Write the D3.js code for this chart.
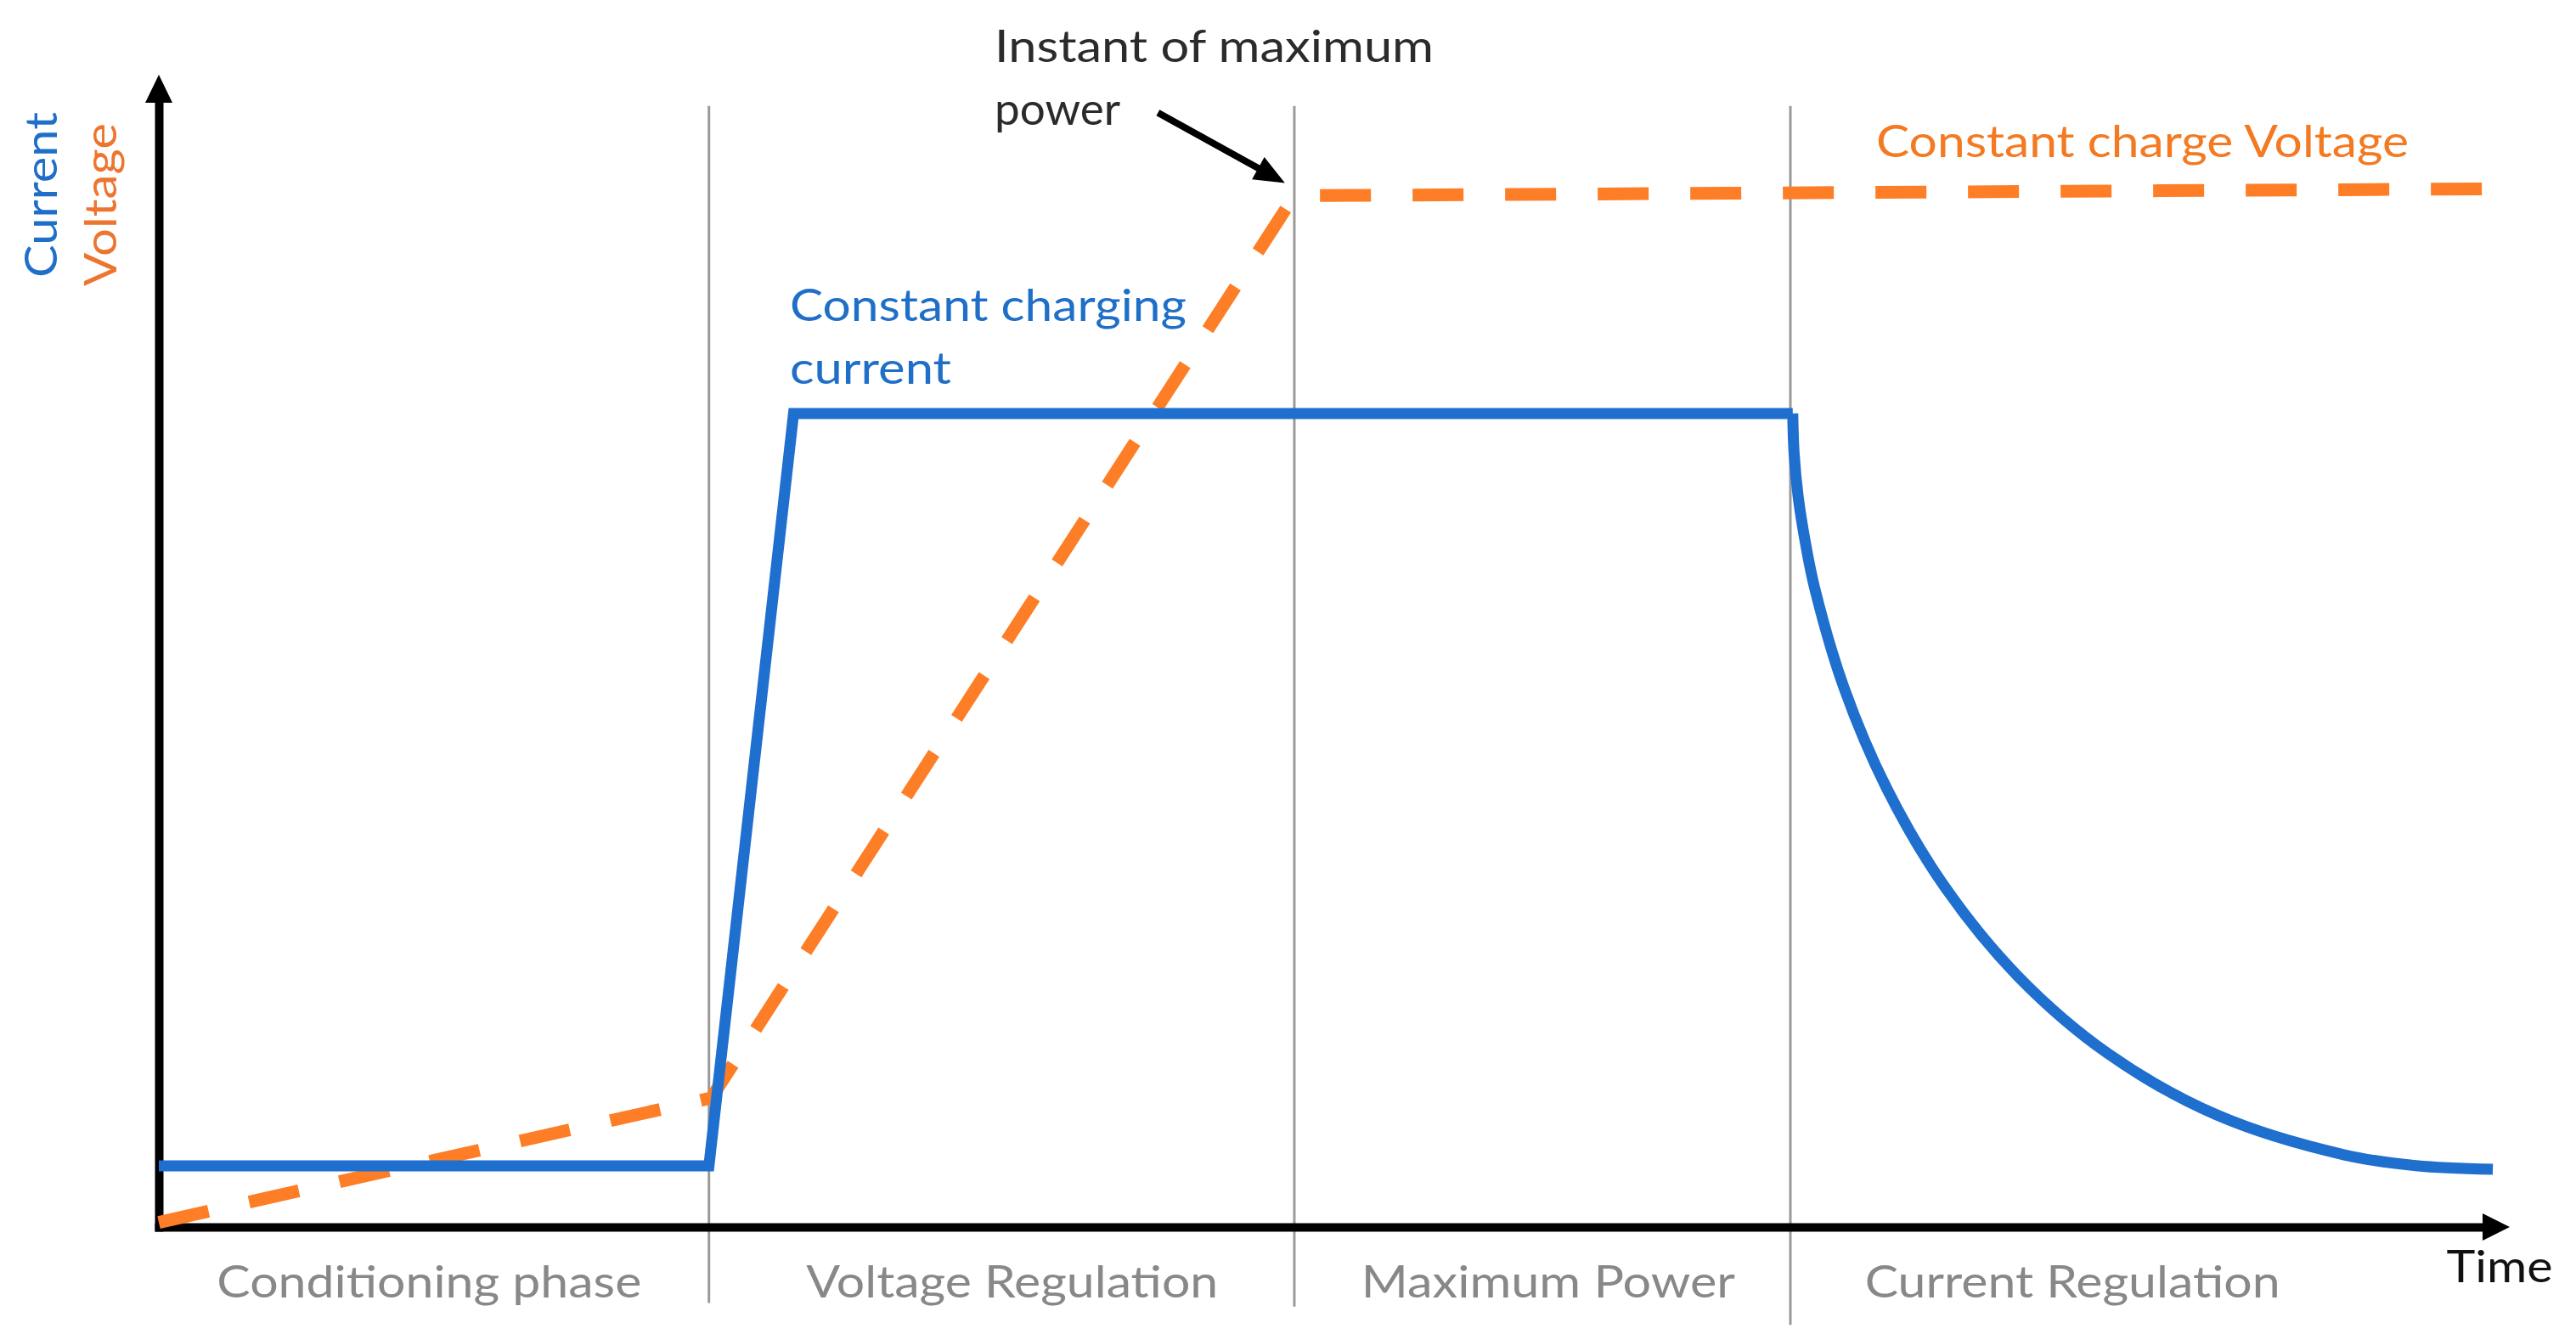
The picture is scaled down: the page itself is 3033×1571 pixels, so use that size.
<!DOCTYPE html>
<html>
<head>
<meta charset="utf-8">
<script src="https://cdn.jsdelivr.net/npm/d3@7"></script>
<style>
  html, body { margin: 0; padding: 0; background: #fff; }
  svg { display: block; }
  text { font-family: Lato, "Open Sans", "DejaVu Sans", sans-serif; }
</style>
</head>
<body>
<svg id="chart" width="3033" height="1571"></svg>
<script>
// ---------------- data ----------------
const phaseBoundaries = [23.4, 48.3, 69.4];          // time of phase changes
const phaseLineBottoms = [-6.6, -6.9, -8.5];          // how far the separators drop below the axis
const phaseLabels = ["Conditioning phase", "Voltage Regulation", "Maximum Power", "Current Regulation"];
const phaseLabelCenters = [11.5, 36.3, 59.1, 81.4];

// current: conditioning level, ramp, constant level
const currentTime  = [0, 23.4, 27.0, 69.5];
const currentValue = [5.3, 5.3, 70.6, 70.6];
// current: decay during current regulation
const decayTime  = [69.5, 69.56, 69.73, 70.03, 70.44, 71.68, 73.49, 75.94, 79.06, 82.91, 87.52, 92.97, 96.01, 99.28];
const decayValue = [70.6, 67.1, 63.4, 59.5, 55.4, 46.8, 38.1, 29.6, 21.8, 15.05, 9.74, 6.26, 5.33, 5.01];

const voltageTime  = [0, 23.5, 48.3, 99.2];
const voltageValue = [0.4, 11.2, 89.5, 90.1];

// ---------------- layout ----------------
const W = 3033, H = 1571;
const svg = d3.select("#chart");
svg.append("rect").attr("width", W).attr("height", H).attr("fill", "#fff");

const x = d3.scaleLinear().domain([0, 100]).range([187, 2955]);
const y = d3.scaleLinear().domain([0, 100]).range([1445, 88]);

const BLUE = "#1f6fce", ORANGE = "#fd7e26", GRAY_LINE = "#9a9a9a";

// phase separators
svg.append("g").selectAll("line")
  .data(phaseBoundaries)
  .join("line")
  .attr("x1", d => x(d)).attr("x2", d => x(d))
  .attr("y1", y(97.3))
  .attr("y2", (d, i) => y(phaseLineBottoms[i]))
  .attr("stroke", GRAY_LINE).attr("stroke-width", 3);

// axes (no ticks, thick domain lines)
const xAxisScale = d3.scaleLinear().domain([x.invert(182), x.invert(2928)]).range([182, 2928]);
const yAxisScale = d3.scaleLinear().domain([y.invert(1450), y.invert(118)]).range([1450, 118]);
const gx = svg.append("g").attr("transform", `translate(0,${y(0)})`)
  .call(d3.axisBottom(xAxisScale).tickValues([]).tickSizeOuter(0));
const gy = svg.append("g").attr("transform", `translate(${x(0)},0)`)
  .call(d3.axisLeft(yAxisScale).tickValues([]).tickSizeOuter(0));
[gx, gy].forEach(g => g.select(".domain").attr("stroke", "#000").attr("stroke-width", 10));

// arrowheads
const tipX = [x(100), y(0)], tipY = [x(0), y(100)];
svg.append("path")
  .attr("d", `M${tipX[0]},${tipX[1]} L${tipX[0]-32},${tipX[1]-16} L${tipX[0]-32},${tipX[1]+16} Z`)
  .attr("fill", "#000");
svg.append("path")
  .attr("d", `M${tipY[0]},${tipY[1]} L${tipY[0]-16},${tipY[1]+33} L${tipY[0]+16},${tipY[1]+33} Z`)
  .attr("fill", "#000");

// voltage (dashed orange)
const voltage = voltageTime.map((t, i) => [t, voltageValue[i]]);
svg.append("path")
  .datum(voltage)
  .attr("d", d3.line().x(d => x(d[0])).y(d => y(d[1])))
  .attr("fill", "none").attr("stroke", ORANGE).attr("stroke-width", 15)
  .attr("stroke-dasharray", "60,49").attr("stroke-linejoin", "round");

// current (solid blue)
const current = currentTime.map((t, i) => [t, currentValue[i]]);
svg.append("path")
  .datum(current)
  .attr("d", d3.line().x(d => x(d[0])).y(d => y(d[1])))
  .attr("fill", "none").attr("stroke", BLUE).attr("stroke-width", 13)
  .attr("stroke-linejoin", "miter");
const decay = decayTime.map((t, i) => [t, decayValue[i]]);
svg.append("path")
  .datum(decay)
  .attr("d", d3.line().curve(d3.curveCatmullRom.alpha(0.5)).x(d => x(d[0])).y(d => y(d[1])))
  .attr("fill", "none").attr("stroke", BLUE).attr("stroke-width", 13);

// phase labels
svg.append("g").selectAll("text")
  .data(phaseLabels)
  .join("text")
  .attr("x", (d, i) => x(phaseLabelCenters[i]))
  .attr("y", y(-6.1))
  .attr("text-anchor", "middle")
  .attr("font-size", 53)
  .attr("fill", "#888")
  .attr("textLength", (d, i) => [500, 485, 440, 489][i])
  .attr("lengthAdjust", "spacingAndGlyphs")
  .text(d => d);

// "Time"
svg.append("text")
  .attr("x", 2943).attr("y", 1510)
  .attr("text-anchor", "middle").attr("font-size", 53).attr("fill", "#111")
  .attr("textLength", 125).attr("lengthAdjust", "spacingAndGlyphs")
  .text("Time");

// y axis labels (rotated)
svg.append("text")
  .attr("transform", "translate(67,327) rotate(-90)")
  .attr("font-size", 53).attr("fill", "#1f6fc8")
  .attr("textLength", 195).attr("lengthAdjust", "spacingAndGlyphs")
  .text("Current");
svg.append("text")
  .attr("transform", "translate(137,337) rotate(-90)")
  .attr("font-size", 53).attr("fill", "#ee7530")
  .attr("textLength", 192).attr("lengthAdjust", "spacingAndGlyphs")
  .text("Voltage");

// annotations
function addText(str, px, py, len, color) {
  svg.append("text").attr("x", px).attr("y", py)
    .attr("font-size", 53).attr("fill", color)
    .attr("textLength", len).attr("lengthAdjust", "spacingAndGlyphs")
    .text(str);
}
addText("Instant of maximum", 1171, 73, 517, "#2b2b2b");
addText("power", 1171, 147, 148, "#2b2b2b");
addText("Constant charge Voltage", 2209, 185, 627, "#f47a22");
addText("Constant charging", 930, 378, 467, "#1f6fc8");
addText("current", 930, 452, 190, "#1f6fc8");

// annotation arrow pointing at the maximum-power instant
const a0 = [x(42.5), y(96.7)], a1 = [x(47.9), y(90.6)];
const dx = a1[0] - a0[0], dy = a1[1] - a0[1], L = Math.hypot(dx, dy);
const ux = dx / L, uy = dy / L, headLen = 36, headHalf = 15;
const base = [a1[0] - ux * headLen, a1[1] - uy * headLen];
svg.append("line")
  .attr("x1", a0[0]).attr("y1", a0[1]).attr("x2", base[0] + ux * 2).attr("y2", base[1] + uy * 2)
  .attr("stroke", "#000").attr("stroke-width", 8);
svg.append("path")
  .attr("d", `M${a1[0]},${a1[1]} L${base[0] - uy * headHalf},${base[1] + ux * headHalf} L${base[0] + uy * headHalf},${base[1] - ux * headHalf} Z`)
  .attr("fill", "#000");
</script>
</body>
</html>
